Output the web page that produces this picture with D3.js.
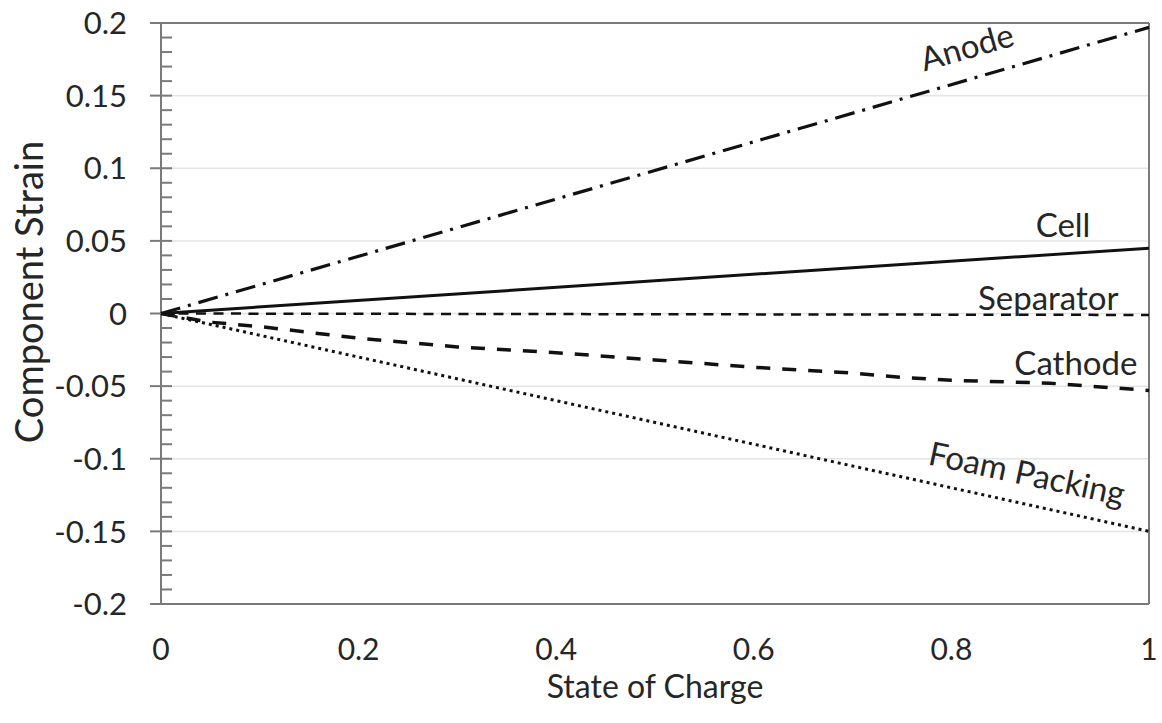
<!DOCTYPE html>
<html>
<head>
<meta charset="utf-8">
<script src="https://cdn.jsdelivr.net/npm/d3@7"></script>
<style>
  body { margin: 0; background: #fff; }
  svg { font-family: Lato, "Open Sans", sans-serif; }
</style>
</head>
<body>
<svg id="chart"></svg>
<script>
// tick labels
var socTicks = [0, 0.2, 0.4, 0.6, 0.8, 1];
var strainTicks = [-0.2, -0.15, -0.1, -0.05, 0, 0.05, 0.1, 0.15, 0.2];

// series (state of charge vs strain)
var anodeSoc = [0, 1];
var anode = [0, 0.197];
var cellSoc = [0, 1];
var cell = [0, 0.045];
var separatorSoc = [0, 1];
var separator = [0, -0.001];
var cathodeSoc = [0, 0.05, 0.1, 0.15, 0.2, 0.25, 0.3, 0.4, 0.5, 0.6, 0.7, 0.75, 0.8, 0.9, 1];
var cathode = [0, -0.006, -0.009, -0.013, -0.017, -0.020, -0.023, -0.027, -0.032, -0.037, -0.041, -0.044, -0.046, -0.048, -0.053];
var foamSoc = [0, 1];
var foam = [0, -0.150];

var WIDTH = 1162, HEIGHT = 723;
var margin = {left: 161, right: 13, top: 23, bottom: 119};
var textColor = "#262626";

var svg = d3.select("#chart").attr("width", WIDTH).attr("height", HEIGHT);

var x = d3.scaleLinear().domain([0, 1]).range([margin.left, WIDTH - margin.right]);
var y = d3.scaleLinear().domain([-0.2, 0.2]).range([HEIGHT - margin.bottom, margin.top]);

// gridlines
svg.append("g").selectAll("line")
    .data(strainTicks)
    .enter().append("line")
    .attr("x1", x(0)).attr("x2", x(1))
    .attr("y1", function(d) { return y(d); })
    .attr("y2", function(d) { return y(d); })
    .attr("stroke", "#e4e4e4")
    .attr("stroke-width", 1.5);

// top and right frame
svg.append("line")
    .attr("x1", x(0) - 11).attr("x2", x(1))
    .attr("y1", y(0.2)).attr("y2", y(0.2))
    .attr("stroke", "#7a7a7a").attr("stroke-width", 2);
svg.append("line")
    .attr("x1", x(1)).attr("x2", x(1))
    .attr("y1", y(0.2)).attr("y2", y(-0.2))
    .attr("stroke", "#7a7a7a").attr("stroke-width", 2);

// y axis: major ticks crossing, minor ticks inside
var minor = d3.range(-0.2, 0.2001, 0.01).filter(function(d) {
    return Math.abs(Math.round(d * 100) % 5) !== 0;
});
var yAxisG = svg.append("g");
yAxisG.selectAll("line.minor")
    .data(minor)
    .enter().append("line")
    .attr("class", "minor")
    .attr("x1", x(0)).attr("x2", x(0) + 11)
    .attr("y1", function(d) { return y(d); })
    .attr("y2", function(d) { return y(d); })
    .attr("stroke", "#7a7a7a").attr("stroke-width", 2);
yAxisG.selectAll("line.major")
    .data(strainTicks)
    .enter().append("line")
    .attr("class", "major")
    .attr("x1", x(0) - 11).attr("x2", x(0) + 11)
    .attr("y1", function(d) { return y(d); })
    .attr("y2", function(d) { return y(d); })
    .attr("stroke", "#7a7a7a").attr("stroke-width", 2);
yAxisG.append("line")
    .attr("x1", x(0)).attr("x2", x(0))
    .attr("y1", y(0.2)).attr("y2", y(-0.2))
    .attr("stroke", "#7a7a7a").attr("stroke-width", 2);
yAxisG.selectAll("text")
    .data(strainTicks)
    .enter().append("text")
    .attr("x", 127)
    .attr("y", function(d) { return y(d); })
    .attr("dy", "0.36em")
    .attr("text-anchor", "end")
    .attr("font-size", 31)
    .attr("fill", textColor)
    .text(function(d) { return d === 0 ? "0" : String(d); });

// x axis
var xAxisG = svg.append("g");
xAxisG.append("line")
    .attr("x1", x(0) - 11).attr("x2", x(1))
    .attr("y1", y(-0.2)).attr("y2", y(-0.2))
    .attr("stroke", "#7a7a7a").attr("stroke-width", 2);
xAxisG.selectAll("text")
    .data(socTicks)
    .enter().append("text")
    .attr("x", function(d) { return x(d); })
    .attr("y", 660)
    .attr("text-anchor", "middle")
    .attr("font-size", 30)
    .attr("fill", textColor)
    .text(function(d) { return String(d); });

// axis titles
svg.append("text")
    .attr("x", x(0.5)).attr("y", 698)
    .attr("text-anchor", "middle")
    .attr("font-size", 32)
    .attr("fill", textColor)
    .text("State of Charge");
svg.append("text")
    .attr("transform", "translate(43," + 292 + ") rotate(-90)")
    .attr("text-anchor", "middle")
    .attr("font-size", 38)
    .attr("fill", textColor)
    .text("Component Strain");

// series lines
var line = d3.line()
    .x(function(d) { return x(d[0]); })
    .y(function(d) { return y(d[1]); });

function pairs(xs, ys) {
    return xs.map(function(v, i) { return [v, ys[i]]; });
}

var series = [
    {pts: pairs(foamSoc, foam), dash: "3,4", w: 3},
    {pts: pairs(cathodeSoc, cathode), dash: "14,12", w: 3.5},
    {pts: pairs(separatorSoc, separator), dash: "10,7.5", w: 2.5},
    {pts: pairs(cellSoc, cell), dash: null, w: 3},
    {pts: pairs(anodeSoc, anode), dash: "20,8,3,8", w: 3.2}
];

svg.append("g").selectAll("path")
    .data(series)
    .enter().append("path")
    .attr("d", function(d) { return line(d.pts); })
    .attr("fill", "none")
    .attr("stroke", "#111")
    .attr("stroke-width", function(d) { return d.w; })
    .attr("stroke-dasharray", function(d) { return d.dash; });

// series labels
function label(txt, sx, sy, rot) {
    svg.append("text")
        .attr("transform", "translate(" + x(sx) + "," + y(sy) + ") rotate(" + rot + ")")
        .attr("text-anchor", "middle")
        .attr("font-size", 33)
        .attr("fill", textColor)
        .text(txt);
}
label("Anode", 0.819, 0.1757, -16);
label("Cell", 0.913, 0.0525, 0);
label("Separator", 0.898, 0.0023, 0);
label("Cathode", 0.926, -0.0425, 0);
label("Foam Packing", 0.874, -0.118, 12);
</script>
</body>
</html>
